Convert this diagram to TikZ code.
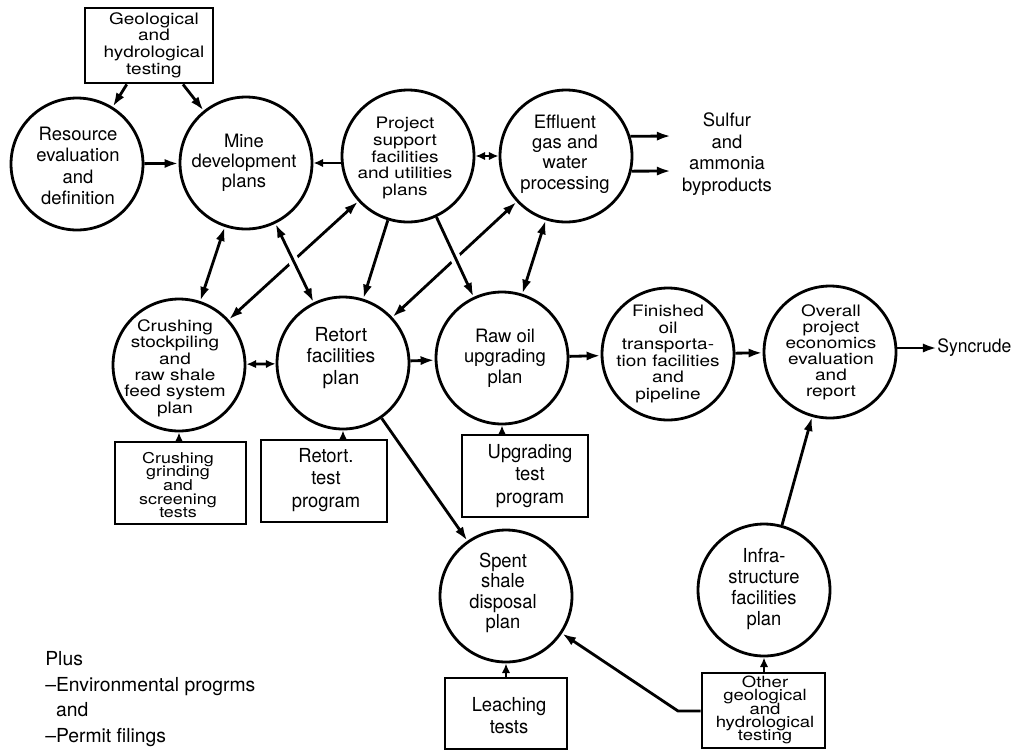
\documentclass[tikz,border=0pt]{standalone}
\usepackage{fontspec}
\setmainfont{TeX Gyre Heros}
\newfontfamily\widef[FakeStretch=1.2]{TeX Gyre Heros}
\newfontfamily\narrowf[FakeStretch=0.95]{TeX Gyre Heros}
\usetikzlibrary{arrows.meta,calc}
\begin{document}
\begin{tikzpicture}[x=0.02cm,y=-0.02cm,
  lw/.style={line width=1.6pt},
  circ/.style={circle,draw,lw,minimum size=2.64cm,inner sep=0pt},
  box/.style={rectangle,draw,lw,inner sep=0pt},
  txt/.style={align=center,inner sep=0pt},
  tight/.style={execute at begin node={\lineskiplimit=-20pt\relax}},
  conn/.style={lw,-{Latex[length=8pt,width=5.2pt]}},
  connS/.style={lw,-{Latex[length=5.5pt,width=4.8pt]}},
  dconn/.style={lw,{Latex[length=8pt,width=5.2pt]}-{Latex[length=8pt,width=5.2pt]}},
  dconnS/.style={lw,{Latex[length=5.5pt,width=4.8pt]}-{Latex[length=5.5pt,width=4.8pt]}},
  halo/.style={preaction={draw,white,line width=6pt,-,shorten <=14pt,shorten >=14pt}},
]
\useasboundingbox (0,0) rectangle (1016,751);

% ---------- circles ----------
\node[circ] (resource) at (77,164) {};
\node[circ] (mine) at (246,163) {};
\node[circ] (project) at (408,156) {};
\node[circ] (effluent) at (566,156) {};
\node[circ] (crushing) at (179,365) {};
\node[circ] (retort) at (343,363) {};
\node[circ] (rawoil) at (502,358) {};
\node[circ] (finished) at (668,354) {};
\node[circ] (overall) at (830,352) {};
\node[circ] (spent) at (506,596) {};
\node[circ] (infra) at (764,590) {};

% ---------- boxes ----------
\node[box,minimum width=2.56cm,minimum height=1.5cm] (geo) at (149,45.5) {};
\node[box,minimum width=2.62cm,minimum height=1.64cm] (ctests) at (180.5,483) {};
\node[box,minimum width=2.52cm,minimum height=1.64cm] (rtest) at (324,481) {};
\node[box,minimum width=2.52cm,minimum height=1.64cm] (utest) at (525,476) {};
\node[box,minimum width=2.44cm,minimum height=1.42cm] (leach) at (506,713.5) {};
\node[box,minimum width=2.46cm,minimum height=1.5cm] (other) at (763.5,710.5) {};

% ---------- texts ----------
\node[txt,font=\fontsize{10.5}{12.2}\selectfont] (t-resource) at (78,166) {Resource\\evaluation\\and\\definition};
\node[txt,font=\fontsize{10.5}{11.3}\selectfont] (t-mine) at (244,163) {Mine\\development\\plans};
\node[txt,font=\widef\fontsize{9}{9.5}\selectfont] (t-project) at (405,158) {Project\\support\\facilities\\and utilities\\plans};
\node[txt,font=\fontsize{10.5}{11.6}\selectfont] (t-effluent) at (565,154) {Effluent\\gas and\\water\\processing};
\node[txt,font=\widef\fontsize{9}{9.3}\selectfont] (t-crushing) at (175,368) {Crushing\\stockpiling\\and\\raw shale\\feed system\\plan};
\node[txt,font=\fontsize{11}{12.2}\selectfont] (t-retort) at (341,358) {Retort\\facilities\\plan};
\node[txt,font=\fontsize{10.5}{11.6}\selectfont] (t-rawoil) at (505,358) {Raw oil\\upgrading\\plan};
\node[txt,font=\widef\fontsize{9}{9.4}\selectfont] (t-finished) at (668,354) {Finished\\oil\\transporta-\\tion facilities\\and\\pipeline};
\node[txt,font=\widef\fontsize{9}{9.1}\selectfont] (t-overall) at (831,352) {Overall\\project\\economics\\evaluation\\and\\report};
\node[txt,font=\narrowf\fontsize{11}{11.6}\selectfont] (t-spent) at (503,593) {Spent\\shale\\disposal\\plan};
\node[txt,font=\narrowf\fontsize{11}{11.9}\selectfont] (t-infra) at (764,589) {Infra-\\structure\\facilities\\plan};
\node[txt,font=\widef\fontsize{9}{9.5}\selectfont] (t-geo) at (154,45) {Geological\\and\\hydrological\\testing};
\node[txt,tight,font=\widef\fontsize{8.5}{7.8}\selectfont] (t-ctests) at (178,485) {Crushing\\grinding\\and\\screening\\tests};
\node[txt,font=\narrowf\fontsize{11}{12.7}\selectfont] (t-rtest) at (326,480) {Retort.\\test\\program};
\node[txt,font=\narrowf\fontsize{11}{13}\selectfont] (t-utest) at (530,476) {Upgrading\\test\\program};
\node[txt,font=\narrowf\fontsize{11}{12.5}\selectfont] (t-leach) at (509,716) {Leaching\\tests};
\node[txt,tight,font=\widef\fontsize{8.8}{7.6}\selectfont] (t-other) at (765,710) {Other\\geological\\and\\hydrological\\testing};
\node[txt,font=\fontsize{10.5}{12.3}\selectfont] (sulfur) at (727,154) {Sulfur\\and\\ammonia\\byproducts};
\node[txt,font=\narrowf\fontsize{10.5}{12}\selectfont,anchor=west] (syncrude) at (937,348) {Syncrude};
\node[txt,font=\fontsize{11}{14.6}\selectfont,align=left,anchor=north west] (plus) at (45,651) {Plus\\--Environmental progrms\\\phantom{--}and\\--Permit filings};

% ---------- free ends ----------
\coordinate (s1) at (671,136);
\coordinate (s2) at (671,171);
\coordinate (bend) at (678,711);

% ---------- connectors ----------
\draw[conn] ($(geo.south west)!0.33!(geo.south east)$) -- (resource.58);
\draw[conn] ($(geo.south west)!0.76!(geo.south east)$) -- (mine.129);
\draw[conn] (resource) -- (mine);
\draw[connS] (project.west |- mine) -- (mine.east);
\draw[dconnS] (project) -- (effluent);
\draw[conn] (effluent.17.6) -- (s1);
\draw[conn] (effluent.-13) -- (s2);

% broken (lower) lines first
\draw[dconn] (crushing) -- (project);
\draw[dconn] (retort) -- (effluent);
% continuous lines with halo
\draw[dconn,halo] (mine) -- (crushing);
\draw[dconn,halo] (mine) -- (retort);
\draw[conn,halo] (project) -- (retort);
\draw[conn,halo] (project) -- (rawoil);
\draw[dconn,halo] (effluent) -- (rawoil);

\draw[dconnS] (crushing) -- (retort);
\draw[conn] (retort) -- (rawoil);
\draw[conn] (rawoil) -- (finished);
\draw[conn] (finished) -- (overall);
\draw[conn] (overall.east |- syncrude) -- (syncrude.west);

\draw[connS] (ctests.north -| crushing.south) -- (crushing.south);
\draw[connS] (rtest.north -| retort.south) -- (retort.south);
\draw[connS] (utest.north -| rawoil.south) -- (rawoil.south);
\draw[connS] (leach.north -| spent.south) -- (spent.south);
\draw[connS] (other.north -| infra.south) -- (infra.south);

\draw[conn] (retort) -- (spent);
\draw[conn] (other.west |- bend) -- (bend) -- (spent);
\draw[conn] (infra) -- (overall);
\end{tikzpicture}
\end{document}
